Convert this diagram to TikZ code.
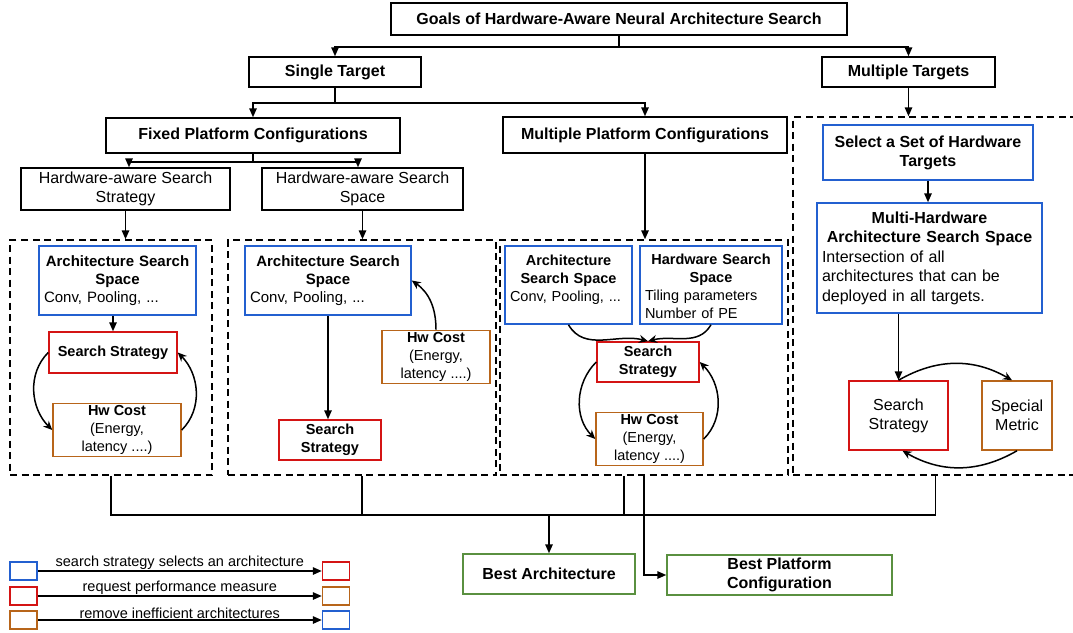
\documentclass[tikz,border=0pt]{standalone}
\usepackage{fontspec}
\setmainfont{Liberation Sans}
\usetikzlibrary{arrows.meta}
\definecolor{hwblue}{HTML}{2360D0}
\definecolor{hwred}{HTML}{D41414}
\definecolor{hworange}{HTML}{B8651A}
\definecolor{hwgreen}{HTML}{5A9040}

\begin{document}
\begin{tikzpicture}[x=1pt,y=-1pt]
    \tikzset{
        hd/.style={font=\fontsize{16}{19}\selectfont\bfseries},
        txt/.style={font=\fontsize{16}{19}\selectfont},
        mtxt/.style={font=\fontsize{15}{18}\selectfont},
        stxt/.style={font=\fontsize{14.5}{18}\selectfont},
        sbold/.style={font=\fontsize{14.5}{18}\selectfont\bfseries},
        box/.style={draw, line width=1.5pt, align=center, inner xsep=5pt, inner ysep=2pt},
        bluebox/.style={box, draw=hwblue},
        redbox/.style={box, draw=hwred},
        orangebox/.style={box, draw=hworange},
        greenbox/.style={box, draw=hwgreen},
        group/.style={draw, line width=1.5pt, dash pattern=on 7pt off 4.5pt},
        wire/.style={line width=1.5pt},
        arr/.style={line width=1.5pt, -{Triangle[length=9pt,width=7.5pt]}},
        loop/.style={line width=1.5pt, -{Stealth[length=9pt,width=8pt]}}
    }
    \useasboundingbox (0,0) rectangle (1073,632);

    \node [group, minimum width=202pt, minimum height=235pt] (grpA) at (111,357.5) {};
    \node [group, minimum width=268pt, minimum height=235pt] (grpB) at (362,357.5) {};
    \node [group, minimum width=288pt, minimum height=235pt] (grpC) at (644,357.5) {};
    \node [group, minimum width=285pt, minimum height=358pt] (grpD) at (935.5,296) {};

    \node [box, hd, minimum width=456pt, minimum height=32pt] (goals) at (619,19) {Goals of Hardware-Aware Neural Architecture Search};
    \node [box, hd, minimum width=172pt, minimum height=30pt] (single) at (335,72) {Single Target};
    \node [box, hd, minimum width=173pt, minimum height=30pt] (multi) at (908.5,72) {Multiple Targets};
    \node [box, hd, minimum width=294pt, minimum height=35pt] (fixed) at (253,135.5) {Fixed Platform Configurations};
    \node [box, hd, minimum width=284pt, minimum height=36pt] (multiplat) at (645,135) {Multiple Platform Configurations};
    \node [box, txt, minimum width=209pt, minimum height=42pt] (hwstrat) at (125.5,189) {Hardware-aware Search\\Strategy};
    \node [box, txt, minimum width=201pt, minimum height=42pt] (hwspace) at (362.5,189) {Hardware-aware Search\\Space};

    \node [bluebox, mtxt, align=left, text width=147pt, minimum height=69pt] (archA) at (117.5,280.5)
        {{\centering\bfseries Architecture Search\\Space\par}\noindent Conv, Pooling, ...};
    \node [redbox, sbold, minimum width=128pt, minimum height=41pt] (stratA) at (113,352.5) {Search Strategy};
    \node [orangebox, stxt, minimum width=128pt, minimum height=52pt] (costA) at (117,430) {\textbf{Hw Cost}\\(Energy,\\latency ....)};

    \node [bluebox, mtxt, align=left, text width=156pt, minimum height=69pt] (archB) at (328,280.5)
        {{\centering\bfseries Architecture Search\\Space\par}\noindent Conv, Pooling, ...};
    \node [redbox, sbold, minimum width=102pt, minimum height=40pt] (stratB) at (330,440) {Search\\Strategy};
    \node [orangebox, stxt, minimum width=108pt, minimum height=51pt] (costB) at (436,357) {\textbf{Hw Cost}\\(Energy,\\latency ....)};

    \node [bluebox, stxt, align=left, text width=117pt, text depth=49pt, minimum height=78pt] (archC) at (568.5,285)
        {{\centering\bfseries Architecture\\Search Space\par}\noindent Conv, Pooling, ...};
    \node [bluebox, stxt, align=left, text width=132pt, text depth=51pt, minimum height=78pt] (hwC) at (711,285)
        {{\centering\bfseries Hardware Search\\Space\par}\noindent Tiling parameters\\Number of PE};
    \node [redbox, sbold, minimum width=102pt, minimum height=40pt] (stratC) at (648,362) {Search\\Strategy};
    \node [orangebox, stxt, minimum width=107pt, minimum height=52pt] (costC) at (649.5,439) {\textbf{Hw Cost}\\(Energy,\\latency ....)};

    \node [bluebox, hd, minimum width=210pt, minimum height=55pt] (select) at (928,152.5) {Select a Set of Hardware\\Targets};
    \node [bluebox, font=\fontsize{16}{19.5}\selectfont, align=left, text width=215pt, minimum height=110pt] (multiarch) at (929.5,258)
        {{\centering\bfseries Multi-Hardware\\Architecture Search Space\par}\noindent Intersection of all\\architectures that can be\\deployed in all targets.};
    \node [redbox, txt, minimum width=99pt, minimum height=69pt] (stratD) at (898.5,415.5) {Search\\Strategy};
    \node [orangebox, txt, inner xsep=3pt, minimum width=70pt, minimum height=69pt] (metricD) at (1017,415.5) {Special\\Metric};

    \node [greenbox, hd, minimum width=172pt, minimum height=40pt] (bestarch) at (549,574) {Best Architecture};
    \node [greenbox, hd, minimum width=225pt, minimum height=40pt] (bestplat) at (779.5,575) {Best Platform\\Configuration};

    \node [bluebox, minimum width=27pt, minimum height=18pt] (keyfromA) at (23.5,571) {};
    \node [redbox, minimum width=27pt, minimum height=18pt] (keytoA) at (336,571) {};
    \node [redbox, minimum width=27pt, minimum height=18pt] (keyfromB) at (23.5,596) {};
    \node [orangebox, minimum width=27pt, minimum height=18pt] (keytoB) at (336,596) {};
    \node [orangebox, minimum width=27pt, minimum height=18pt] (keyfromC) at (23.5,620) {};
    \node [bluebox, minimum width=27pt, minimum height=18pt] (keytoC) at (336,620) {};

    \draw [arr] (goals.south) -- ++(0,11) -| (single.north);
    \draw [arr] (goals.south) -- ++(0,11) -| (multi.north);
    \draw [arr] (single.south) -- ++(0,15) -| (fixed.north);
    \draw [arr] (single.south) -- ++(0,15) -| (multiplat.north);
    \draw [arr] (fixed.south) -- ++(0,8) -| ([xshift=3.5pt]hwstrat.north);
    \draw [arr] (fixed.south) -- ++(0,8) -| ([xshift=-4.5pt]hwspace.north);
    \draw [arr] (hwstrat.south) -- (hwstrat.south |- grpA.north);
    \draw [arr] (hwspace.south) -- (hwspace.south |- grpB.north);
    \draw [arr] (multiplat.south) -- (multiplat.south |- grpC.north);
    \draw [arr] (multi.south) -- (multi.south |- grpD.north);

    \draw [arr] (stratA.north |- archA.south) -- (stratA.north);
    \draw [loop] (stratA.west) to[out=225,in=135] (costA.west);
    \draw [loop] (costA.east) to[out=45,in=-45] (stratA.east);

    \draw [arr] (archB.south) -- (archB.south |- stratB.north);
    \draw [loop] (costB.north) to[out=90,in=-35] (archB.east);

    \draw [loop] (archC.south) to[out=-60,in=165] (stratC.north);
    \draw [loop] (hwC.south) to[out=-120,in=15] (stratC.north);
    \draw [loop] (stratC.west) to[out=225,in=135] (costC.west);
    \draw [loop] (costC.east) to[out=45,in=-45] (stratC.east);

    \draw [arr] (select.south) -- (select.south |- multiarch.north);
    \draw [arr] (stratD.north |- multiarch.south) -- (stratD.north);
    \draw [loop] (stratD.north) to[out=30,in=150] ([xshift=-5pt]metricD.north);
    \draw [loop] (metricD.south) to[out=-150,in=-30] ([xshift=4pt]stratD.south);

    \draw [wire] (grpA.south) -- ++(0,39) coordinate (bus) -| (grpD.south);
    \draw [wire] (grpB.south) -- (grpB.south |- bus);
    \draw [wire] ([xshift=-20pt]grpC.south) -- ([xshift=-20pt]grpC.south |- bus);
    \draw [arr] (bestarch.north |- bus) -- (bestarch.north);
    \draw [arr] (grpC.south) |- (bestplat.west);

    \draw [arr] (keyfromA) -- node [above, stxt, inner sep=1pt] {search strategy selects an architecture} (keytoA);
    \draw [arr] (keyfromB) -- node [above, stxt, inner sep=1pt] {request performance measure} (keytoB);
    \draw [arr] (keyfromC) -- node [above, stxt, inner sep=1pt] {remove inefficient architectures} (keytoC);
\end{tikzpicture}
\end{document}
